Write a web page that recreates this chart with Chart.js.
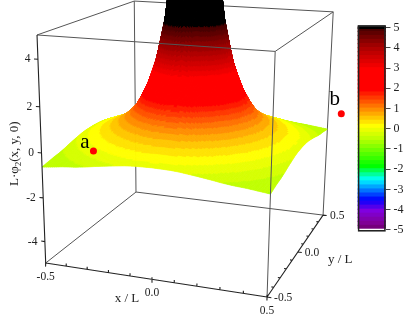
<!DOCTYPE html>
<html>
<head>
<meta charset="utf-8">
<style>
    body { margin: 0; background: #fff; }
    canvas { position: absolute; }
</style>
<script src="https://cdn.jsdelivr.net/npm/chart.js@4"></script>
</head>
<body>
<canvas id="surfaceChart" width="415" height="318" style="left:0;top:0"></canvas>
<canvas id="barChart" width="65" height="225" style="left:350px;top:15px"></canvas>
<script>
// one quarter of the surface (x >= 0, y >= 0), the plot is mirrored in both axes
const gridCoords = [0, 0.04, 0.08, 0.12, 0.16, 0.2, 0.25, 0.3, 0.35, 0.4, 0.45, 0.5]
const zQuarter = [
    [16, 15, 9.6, 5.7, 3.65, 2.4, 1.4, 0.85, 0.52, 0.28, 0.08, -0.1],
    [15, 13, 8.6, 5.3, 3.5, 2.33, 1.35, 0.83, 0.51, 0.27, 0.07, -0.11],
    [9.6, 8.6, 6.4, 4.4, 3.0, 2.08, 1.22, 0.78, 0.47, 0.25, 0.06, -0.12],
    [5.7, 5.3, 4.4, 3.3, 2.4, 1.7, 1.05, 0.68, 0.42, 0.21, 0.03, -0.15],
    [3.65, 3.5, 3.0, 2.4, 1.85, 1.3, 0.88, 0.58, 0.35, 0.16, -0.01, -0.2],
    [2.4, 2.33, 2.08, 1.7, 1.3, 0.98, 0.7, 0.47, 0.27, 0.1, -0.07, -0.25],
    [1.4, 1.35, 1.22, 1.05, 0.88, 0.7, 0.5, 0.33, 0.16, 0, -0.16, -0.32],
    [0.85, 0.83, 0.78, 0.68, 0.58, 0.47, 0.33, 0.2, 0.05, -0.08, -0.26, -0.4],
    [0.52, 0.51, 0.47, 0.42, 0.35, 0.27, 0.16, 0.05, -0.08, -0.22, -0.34, -0.46],
    [0.28, 0.27, 0.25, 0.21, 0.16, 0.1, 0, -0.08, -0.22, -0.33, -0.43, -0.5],
    [0.08, 0.07, 0.06, 0.03, -0.01, -0.07, -0.16, -0.26, -0.34, -0.43, -0.5, -0.56],
    [-0.1, -0.11, -0.12, -0.15, -0.2, -0.25, -0.32, -0.4, -0.46, -0.5, -0.56, -0.62]
]

const zTicks = [-4, -2, 0, 2, 4]
const xyMajorTicks = [-0.5, 0, 0.5]
const xyMinorTicks = [-0.4, -0.3, -0.2, -0.1, 0.1, 0.2, 0.3, 0.4]
const barTicks = [-5, -4, -3, -2, -1, 0, 1, 2, 3, 4, 5]

const markerNames = ['a', 'b']
const markerX = [-0.307, 0.5]
const markerY = [-0.399, 0.82]
const markerZ = [0, -0.65]

const colorLevels = [-5, -4.75, -4.1, -3.55, -2.55, -1.9, -0.5, 0.1, 1, 1.9, 2.9, 4, 5]
const colorValues = [
    [110, 0, 110], [128, 0, 144], [128, 0, 224], [0, 0, 255], [0, 255, 255], [0, 255, 0],
    [192, 255, 0], [255, 255, 0], [255, 128, 0], [255, 0, 0], [255, 0, 0], [168, 0, 0], [64, 0, 0]
]
const BAND = 0.2

const FONT = '"Liberation Serif", serif'

// fitted to the corners of the box
const project = (x, y, z) => {
    const u = x + 0.5
    const v = y + 0.5
    const w = (z + 5) / 10
    const d = 1 - 0.0762 * u + 0.206 * v - 0.068 * w
    return {
        x: (45.7 + 201 * u + 118.3 * v - 11.2 * w) / d,
        y: (263 + 11.4 * u - 31.4 * v - 230.4 * w) / d
    }
}

const colorOf = (z) => {
    if (z >= 5) return 'rgb(0,0,0)'
    const level = (Math.floor(z / BAND) + 0.5) * BAND
    let i = 0
    while (i < colorLevels.length - 2 && level > colorLevels[i + 1]) i++
    const t = Math.min(1, Math.max(0, (level - colorLevels[i]) / (colorLevels[i + 1] - colorLevels[i])))
    const c = colorValues[i].map((v, k) => Math.round(v + (colorValues[i + 1][k] - v) * t))
    return `rgb(${c[0]},${c[1]},${c[2]})`
}

// full axis, negative side first
const axisCoords = [...gridCoords.slice(1).reverse().map(v => -v), ...gridCoords]
const zAt = (i, j) => zQuarter[Math.abs(i - gridCoords.length + 1)][Math.abs(j - gridCoords.length + 1)]

const surfacePoints = []
axisCoords.forEach((y, j) => {
    axisCoords.forEach((x, i) => {
        surfacePoints.push(project(x, y, zAt(i, j)))
    })
})

const segments = (list) => {
    const out = []
    list.forEach(s => {
        out.push(project(s[0], s[1], s[2]), project(s[3], s[4], s[5]), { x: NaN, y: NaN })
    })
    return out
}

const backEdges = segments([
    [-0.5, 0.5, -5, 0.5, 0.5, -5], [-0.5, -0.5, -5, -0.5, 0.5, -5], [-0.5, 0.5, -5, -0.5, 0.5, 5],
    [-0.5, 0.5, 5, 0.5, 0.5, 5], [-0.5, -0.5, 5, -0.5, 0.5, 5], [0.5, 0.5, -5, 0.5, 0.5, 5]
])
const frontEdges = segments([
    [-0.5, -0.5, 5, 0.5, -0.5, 5], [0.5, -0.5, 5, 0.5, 0.5, 5], [0.5, -0.5, -5, 0.5, -0.5, 5]
])

const axisSegments = [[-0.5, -0.5, -5, -0.5, -0.5, 5], [-0.5, -0.5, -5, 0.5, -0.5, -5], [0.5, -0.5, -5, 0.5, 0.5, -5]]
zTicks.forEach(z => axisSegments.push([-0.5, -0.5, z, -0.518, -0.5, z]))
xyMajorTicks.forEach(v => {
    axisSegments.push([v, -0.5, -5.15, v, -0.5, -4.9])
    axisSegments.push([0.5, v, -5, 0.518, v, -5])
})
xyMinorTicks.forEach(v => {
    axisSegments.push([v, -0.5, -5, v, -0.5, -4.88])
    axisSegments.push([0.5, v, -5, 0.49, v, -5])
})
const axisLines = segments(axisSegments)

const markerPoints = markerNames.map((n, i) => project(markerX[i], markerY[i], markerZ[i]))

const surfacePlugin = {
    id: 'surfacePlugin',
    beforeDatasetDraw(chart, args) {
        if (chart.data.datasets[args.index].label !== 'surface') return
        const ctx = chart.ctx
        const pts = args.meta.data
        const n = axisCoords.length
        const cells = []
        for (let j = 0; j < n - 1; j++) {
            for (let i = 0; i < n - 1; i++) {
                cells.push({ i, j, depth: -0.0762 * axisCoords[i] + 0.206 * axisCoords[j] })
            }
        }
        cells.sort((p, q) => q.depth - p.depth)

        ctx.save()
        ctx.lineWidth = 0.7
        cells.forEach(({ i, j }) => {
            const a = pts[j * n + i], b = pts[j * n + i + 1]
            const c = pts[(j + 1) * n + i + 1], d = pts[(j + 1) * n + i]
            const za = zAt(i, j), zb = zAt(i + 1, j), zc = zAt(i + 1, j + 1), zd = zAt(i, j + 1)
            const range = Math.max(za, zb, zc, zd) - Math.min(za, zb, zc, zd)
            const steps = Math.min(30, 4 + Math.ceil(range / 0.15))
            const at = (s, t) => {
                const s0 = s / steps, t0 = t / steps
                const mix = (pa, pb, pc, pd) => (pa * (1 - s0) + pb * s0) * (1 - t0) + (pd * (1 - s0) + pc * s0) * t0
                return { x: mix(a.x, b.x, c.x, d.x), y: mix(a.y, b.y, c.y, d.y), z: mix(za, zb, zc, zd) }
            }
            for (let t = steps - 1; t >= 0; t--) {
                for (let s = 0; s < steps; s++) {
                    const p0 = at(s, t), p1 = at(s + 1, t), p2 = at(s + 1, t + 1), p3 = at(s, t + 1)
                    const col = colorOf((p0.z + p1.z + p2.z + p3.z) / 4)
                    ctx.fillStyle = col
                    ctx.strokeStyle = col
                    ctx.beginPath()
                    ctx.moveTo(p0.x, p0.y)
                    ctx.lineTo(p1.x, p1.y)
                    ctx.lineTo(p2.x, p2.y)
                    ctx.lineTo(p3.x, p3.y)
                    ctx.closePath()
                    ctx.fill()
                    ctx.stroke()
                }
            }
        })
        ctx.restore()
    }
}

const labelPlugin = {
    id: 'labelPlugin',
    afterDatasetsDraw(chart) {
        const ctx = chart.ctx
        const sx = chart.scales.x
        const sy = chart.scales.y
        const text = (str, p, dx, dy, align) => {
            ctx.textAlign = align || 'center'
            ctx.fillText(str, sx.getPixelForValue(p.x) + dx, sy.getPixelForValue(p.y) + dy)
        }
        ctx.save()
        ctx.fillStyle = '#222'
        ctx.textBaseline = 'middle'
        ctx.font = '11.5px ' + FONT
        zTicks.forEach(z => text(String(z), project(-0.5, -0.5, z), -7.5, 0, 'right'))
        xyMajorTicks.forEach(v => {
            const lab = v.toFixed(1)
            text(lab, project(v, -0.5, -5), 0, 14)
            text(lab, project(0.5, v, -5), 7, 1, 'left')
        })
        ctx.font = '13px ' + FONT
        ctx.textAlign = 'center'
        ctx.fillText('x / L', 127, 299)
        ctx.textAlign = 'left'
        ctx.fillText('y / L', 328, 260)

        ctx.fillStyle = '#000'
        ctx.font = '21px ' + FONT
        text(markerNames[0], markerPoints[0], -8.5, -9)
        text(markerNames[1], markerPoints[1], -6.5, -14)

        // rotated title with the subscript
        ctx.fillStyle = '#222'
        ctx.translate(18, 186)
        ctx.rotate(-Math.PI / 2)
        ctx.textAlign = 'left'
        ctx.textBaseline = 'alphabetic'
        ctx.font = '13px ' + FONT
        ctx.fillText('L·φ', 0, 0)
        let w = ctx.measureText('L·φ').width
        ctx.font = '9px ' + FONT
        ctx.fillText('2', w, 3)
        w += ctx.measureText('2').width
        ctx.font = '13px ' + FONT
        ctx.fillText('(x, y, 0)', w, 0)
        ctx.restore()
    }
}

new Chart(document.getElementById('surfaceChart').getContext('2d'), {
    type: 'scatter',
    data: {
        datasets: [
            { label: 'back', data: backEdges, showLine: true, spanGaps: false, borderColor: '#555', borderWidth: 1, pointRadius: 0, order: 3 },
            { label: 'surface', data: surfacePoints, pointRadius: 0, order: 2 },
            { label: 'front', data: frontEdges, showLine: true, spanGaps: false, borderColor: '#555', borderWidth: 1, pointRadius: 0, order: 1 },
            { label: 'axes', data: axisLines, showLine: true, spanGaps: false, borderColor: '#222', borderWidth: 1.1, pointRadius: 0, order: 0 },
            { label: 'markers', data: markerPoints, pointRadius: 3.5, pointBackgroundColor: '#f00', pointBorderWidth: 0, order: -1 }
        ]
    },
    options: {
        responsive: false,
        animation: false,
        events: [],
        layout: { padding: 0, autoPadding: false },
        scales: {
            x: { min: 0, max: 415, display: false },
            y: { min: 0, max: 318, reverse: true, display: false }
        },
        plugins: { legend: { display: false }, tooltip: { enabled: false } }
    },
    plugins: [surfacePlugin, labelPlugin]
})

// colour bar, one floating bar per band, overlapping a little so no seams show
const barDatasets = []
for (let k = 0; k < 50; k++) {
    const lo = -5 + k * BAND
    barDatasets.push({ data: [[Math.max(lo, -4.93), lo + BAND + 0.03]], backgroundColor: colorOf(lo + BAND / 2), borderWidth: 0, grouped: false, barPercentage: 1, categoryPercentage: 1, clip: false })
}
barDatasets.unshift({ data: [[4.95, 5.1]], backgroundColor: '#000', borderWidth: 0, grouped: false, barPercentage: 1, categoryPercentage: 1, clip: false })
barDatasets.push({ data: [[-5.08, 5.1]], backgroundColor: 'rgba(0,0,0,0)', borderColor: '#222', borderWidth: 1, borderSkipped: false, grouped: false, barPercentage: 1, categoryPercentage: 1, clip: false, order: -1 })

new Chart(document.getElementById('barChart').getContext('2d'), {
    type: 'bar',
    data: { labels: [''], datasets: barDatasets },
    options: {
        responsive: false,
        animation: false,
        events: [],
        layout: { padding: { left: 8, top: 12.7, bottom: 10, right: 0 }, autoPadding: false },
        scales: {
            x: { display: false },
            y: {
                position: 'right',
                min: -5,
                max: 5,
                afterFit(scale) { scale.width = 29.5 },
                afterBuildTicks(scale) { scale.ticks = barTicks.map(value => ({ value })) },
                grid: { drawOnChartArea: false, tickLength: 5, color: '#444' },
                border: { display: false },
                ticks: { color: '#222', padding: 3, font: { family: FONT, size: 12 } }
            }
        },
        plugins: { legend: { display: false }, tooltip: { enabled: false } }
    }
})
</script>
</body>
</html>
